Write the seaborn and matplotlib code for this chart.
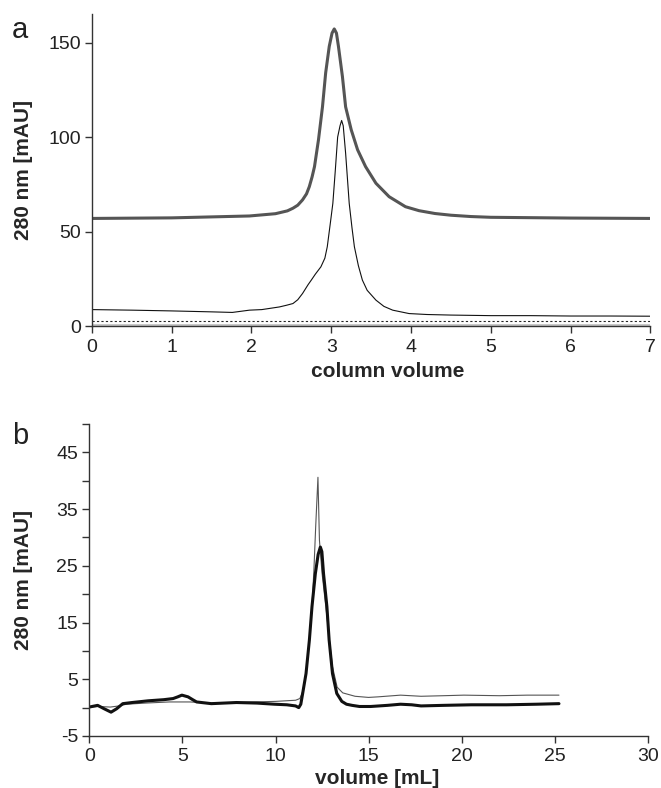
import matplotlib
matplotlib.use("Agg")
import matplotlib.pyplot as plt
import seaborn as sns
import pandas as pd

# === DATI PANNELLO a (column volume) ===
a_thick_x = [0, 1.0, 1.975, 2.3, 2.45, 2.52, 2.58, 2.64, 2.69, 2.725, 2.76, 2.79, 2.84, 2.89,
             2.93, 2.975, 3.01, 3.0375, 3.065, 3.09, 3.14, 3.18, 3.25, 3.33, 3.43, 3.56, 3.725,
             3.93, 4.1, 4.3, 4.5, 4.75, 5.0, 6.0, 7.0]
a_thick_y = [57.0, 57.3, 58.3, 59.5, 61.0, 62.4, 64.0, 66.8, 70.0, 73.8, 79.0, 84.4, 98.6, 116.0,
             134.0, 148.0, 155.0, 157.2, 155.0, 148.0, 132.0, 116.0, 103.9, 93.3, 84.4, 75.6, 68.5,
             63.2, 61.1, 59.6, 58.7, 58.0, 57.6, 57.2, 57.0]

a_thin_x = [0, 0.5, 1.0, 1.5, 1.76, 1.975, 2.13, 2.35, 2.44, 2.52, 2.58, 2.64, 2.71, 2.75, 2.80,
            2.87, 2.92, 2.95, 2.99, 3.02, 3.05, 3.08, 3.11, 3.13, 3.15, 3.18, 3.225, 3.26, 3.29,
            3.34, 3.39, 3.45, 3.56, 3.66, 3.77, 3.975, 4.2, 4.5, 5.0, 5.5, 6.0, 6.5, 7.0]
a_thin_y = [8.8, 8.5, 8.1, 7.6, 7.3, 8.5, 8.8, 10.2, 11.1, 12.0, 14.0, 17.3, 22.0, 24.4, 27.5,
            31.4, 36.0, 42.0, 55.0, 65.0, 82.0, 100.0, 106.0, 108.8, 106.0, 91.5, 65.0, 52.0,
            42.0, 32.0, 24.4, 19.0, 13.8, 10.5, 8.5, 6.7, 6.2, 5.9, 5.6, 5.6, 5.4, 5.4, 5.3]

a_dotted_x = [0, 7.0]
a_dotted_y = [2.8, 2.8]
a_base_x = [0, 7.0]
a_base_y = [0.4, 0.4]

# === DATI PANNELLO b (volume mL) ===
b_thin_x = [0, 0.5, 1.13, 1.6, 2.0, 3.0, 4.3, 5.4, 6.55, 8.8, 10.0, 11.07, 11.3, 11.45, 11.63,
            11.81, 11.95, 12.05, 12.15, 12.27, 12.35, 12.49, 12.6, 12.77, 12.9, 13.05, 13.3,
            13.6, 14.26, 14.98, 15.5, 16.7, 17.8, 19.0, 20.1, 22.0, 23.5, 25.2]
b_thin_y = [0.1, 0.2, 0.1, 0.3, 0.6, 0.8, 1.0, 1.0, 0.8, 1.0, 1.1, 1.3, 1.6, 2.8, 6.0,
            11.9, 17.8, 24.0, 32.0, 40.6, 29.5, 23.7, 20.5, 15.5, 11.5, 7.2, 3.6,
            2.6, 2.0, 1.8, 1.9, 2.2, 2.0, 2.1, 2.2, 2.1, 2.2, 2.2]

b_thick_x = [0, 0.45, 0.8, 1.17, 1.47, 1.8, 2.3, 3.16, 4.0, 4.5, 4.75, 4.97, 5.3, 5.55, 5.76,
             6.55, 7.9, 9.0, 9.94, 10.6, 11.07, 11.24, 11.35, 11.45, 11.63, 11.81, 11.95, 12.13,
             12.28, 12.40, 12.48, 12.57, 12.75, 12.87, 13.05, 13.28, 13.55, 13.8, 14.1, 14.5,
             15.1, 16.0, 16.7, 17.3, 17.8, 19.0, 20.5, 22.4, 24.0, 25.2]
b_thick_y = [0.1, 0.4, -0.2, -0.8, -0.2, 0.7, 0.9, 1.2, 1.4, 1.6, 1.9, 2.2, 1.9, 1.4, 1.0,
             0.7, 0.9, 0.8, 0.6, 0.5, 0.3, 0.0, 0.6, 2.5, 6.0, 11.9, 17.8, 23.6,
             27.0, 28.3, 27.5, 23.6, 17.8, 11.9, 6.0, 2.5, 1.1, 0.6, 0.4, 0.2,
             0.2, 0.4, 0.6, 0.5, 0.3, 0.4, 0.5, 0.5, 0.6, 0.7]

# === STILE ===
sns.set_style("ticks")
plt.rcParams['font.family'] = ['Liberation Sans', 'DejaVu Sans']
plt.rcParams['axes.unicode_minus'] = False
plt.rcParams['axes.edgecolor'] = '#333333'
plt.rcParams['xtick.color'] = '#333333'
plt.rcParams['ytick.color'] = '#333333'
plt.rcParams['xtick.labelcolor'] = '#222222'
plt.rcParams['ytick.labelcolor'] = '#222222'

fig = plt.figure(figsize=(6.61, 7.88), dpi=100)
ax_a = fig.add_axes([0.139, 0.586, 0.845, 0.396])
ax_b = fig.add_axes([0.135, 0.066, 0.846, 0.396])


def draw(ax, x, y, **kw):
    df = pd.DataFrame({"x": x, "y": y})
    sns.lineplot(data=df, x="x", y="y", ax=ax, sort=False, estimator=None, **kw)


# --- pannello a ---
draw(ax_a, a_base_x, a_base_y, color='#c8c8c8', linewidth=1.5)
draw(ax_a, a_dotted_x, a_dotted_y, color='#222222', linewidth=0.8, linestyle=(0, (2, 2)))
draw(ax_a, a_thin_x, a_thin_y, color='#111111', linewidth=0.8)
draw(ax_a, a_thick_x, a_thick_y, color='#555555', linewidth=2.2)

ax_a.set_xlim(0, 7)
ax_a.set_ylim(0, 165)
ax_a.set_xticks(range(0, 8))
ax_a.set_yticks([0, 50, 100, 150])

# --- pannello b ---
draw(ax_b, b_thin_x, b_thin_y, color='#555555', linewidth=0.8)
draw(ax_b, b_thick_x, b_thick_y, color='#111111', linewidth=2.2)

ax_b.set_xlim(0, 30)
ax_b.set_ylim(-5, 50)
ax_b.set_xticks(range(0, 31, 5))
ax_b.set_yticks(range(-5, 50, 10))
ax_b.set_yticks(range(0, 51, 10), minor=True)

for ax in (ax_a, ax_b):
    sns.despine(ax=ax)
    ax.spines['left'].set_linewidth(1.0)
    ax.spines['bottom'].set_linewidth(1.0)
    ax.tick_params(axis='both', which='both', direction='out', length=5, width=1.0,
                   labelsize=14)
    ax.tick_params(axis='x', pad=4)
    ax.tick_params(axis='y', pad=3)

ax_a.set_xlabel("column volume", fontsize=15, fontweight='bold')
ax_a.set_ylabel("280 nm [mAU]", fontsize=15, fontweight='bold')
ax_b.set_xlabel("volume [mL]", fontsize=15, fontweight='bold')
ax_b.set_ylabel("280 nm [mAU]", fontsize=15, fontweight='bold')

ax_a.xaxis.set_label_coords(0.53, -0.144)
ax_a.xaxis.label.set_va('center')
ax_a.yaxis.set_label_coords(-0.123, 0.5)
ax_a.yaxis.label.set_va('center')
ax_b.xaxis.set_label_coords(0.515, -0.135)
ax_b.xaxis.label.set_va('center')
ax_b.yaxis.set_label_coords(-0.117, 0.5)
ax_b.yaxis.label.set_va('center')

fig.text(20 / 661, 1 - 30 / 788, "a", fontsize=21, ha='center', va='center', color='#222222')
fig.text(20 / 661, 1 - 436 / 788, "b", fontsize=21, ha='center', va='center', color='#222222')

fig.savefig("out.png", dpi=100)
